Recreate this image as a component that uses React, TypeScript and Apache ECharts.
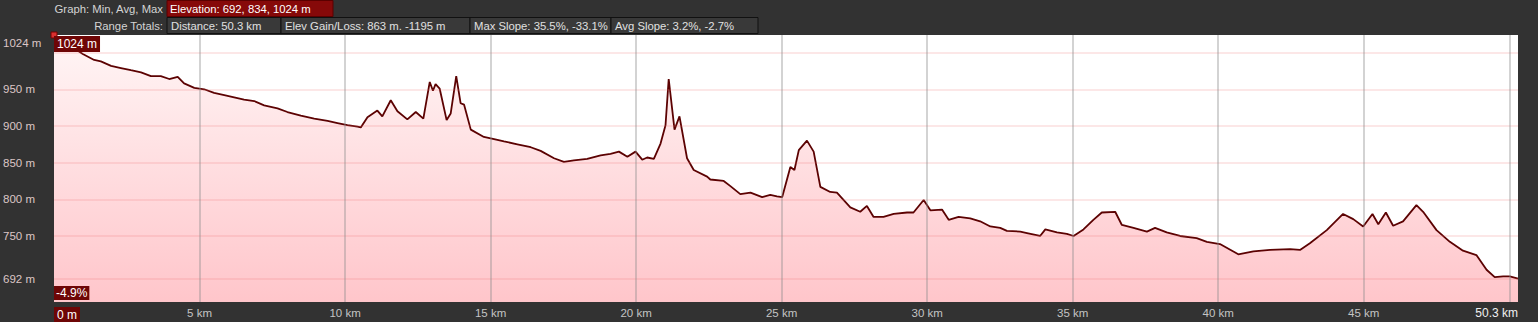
import React, { useEffect, useRef } from "react";
import * as echarts from "echarts";

const distanceKm = [0, 0.99, 1.38, 1.61, 1.96, 2.3, 2.64, 2.99, 3.33, 3.67, 3.96, 4.25, 4.47, 4.82, 5.16, 5.5, 5.85, 6.19, 6.53, 6.88, 7.22, 7.68, 8.02, 8.48, 8.94, 9.4, 9.74, 10.08, 10.43, 10.54, 10.77, 11.11, 11.28, 11.57, 11.8, 12.14, 12.43, 12.69, 12.91, 13.02, 13.11, 13.25, 13.49, 13.63, 13.82, 13.97, 14.09, 14.32, 14.77, 15.12, 15.46, 15.92, 16.38, 16.72, 17.18, 17.52, 17.86, 18.32, 18.78, 19.12, 19.41, 19.7, 19.98, 20.21, 20.38, 20.61, 20.84, 21.01, 21.12, 21.32, 21.49, 21.75, 21.98, 22.44, 22.55, 23.01, 23.24, 23.58, 23.93, 24.33, 24.61, 24.84, 25.02, 25.3, 25.44, 25.59, 25.87, 26.1, 26.33, 26.67, 26.9, 27.36, 27.7, 27.93, 28.16, 28.5, 28.85, 29.31, 29.53, 29.88, 30.11, 30.51, 30.74, 31.08, 31.48, 31.82, 32.17, 32.51, 32.74, 33.2, 33.43, 33.88, 34.06, 34.46, 34.8, 35.03, 35.37, 35.71, 36.0, 36.46, 36.69, 37.09, 37.55, 37.83, 38.23, 38.69, 39.26, 39.61, 40.06, 40.69, 41.21, 41.78, 42.47, 42.81, 43.15, 43.73, 44.29, 44.64, 44.98, 45.3, 45.5, 45.76, 46.01, 46.35, 46.81, 47.04, 47.5, 47.96, 48.41, 48.87, 49.22, 49.5, 49.79, 50.02, 50.3];

const elevationM = [1024, 998, 990, 988, 982, 979, 976, 973, 968, 968, 964, 967, 958, 952, 950, 945, 942, 939, 936, 934, 928, 924, 919, 914, 910, 907, 904, 901, 899, 898, 912, 921, 913, 935, 920, 909, 919, 910, 960, 948, 957, 951, 908, 917, 968, 931, 929, 895, 885, 882, 879, 875, 871, 866, 856, 851, 853, 855, 860, 862, 865, 858, 865, 854, 857, 855, 876, 901, 964, 895, 913, 856, 840, 831, 827, 825, 818, 807, 809, 803, 806, 804, 803, 844, 840, 867, 880, 865, 817, 810, 809, 789, 783, 791, 776, 776, 780, 782, 782, 799, 785, 786, 772, 776, 774, 770, 763, 761, 757, 756, 754, 750, 759, 755, 753, 750, 759, 772, 782, 783, 765, 761, 756, 761, 755, 750, 747, 742, 739, 725, 729, 731, 732, 731, 740, 758, 780, 773, 763, 780, 766, 782, 764, 770, 792, 783, 758, 742, 730, 724, 704, 694, 695, 695, 692];

const yLabelValues = [692, 750, 800, 850, 900, 950, 1024];
const yGridValues = [692, 750, 800, 850, 900, 950, 1000];
const xGridValues = [5, 10, 15, 20, 25, 30, 35, 40, 45, 50];
const yMin = 660;
const yMax = 1024;
const xMax = 50.3;

const headerTitle1 = "Graph: Min, Avg, Max";
const headerTitle2 = "Range Totals:";
const elevationSummary = "Elevation: 692, 834, 1024 m";
const rangeTotals = [
  "Distance: 50.3 km",
  "Elev Gain/Loss: 863 m. -1195 m",
  "Max Slope: 35.5%, -33.1%",
  "Avg Slope: 3.2%, -2.7%",
];
const rangeBoxX = [167, 281, 470, 611, 758];
const maxLabel = "1024 m";
const slopeLabel = "-4.9%";

const FONT = '"Liberation Sans", Arial, sans-serif';
const HF = 11.3;

export default function App() {
  const ref = useRef<HTMLDivElement>(null);
  useEffect(() => {
    if (!ref.current) return;
    const chart = echarts.init(ref.current, undefined, { renderer: "svg" });
    const data = distanceKm.map((k, i) => [k, elevationM[i]]);

    const graphic: any[] = [
      {
        type: "text",
        x: 163,
        y: 8.5,
        style: { text: headerTitle1, fill: "#d4d4d4", fontSize: HF, fontFamily: FONT, align: "right", verticalAlign: "middle" },
      },
      {
        type: "rect",
        shape: { x: 167, y: 0.5, width: 166, height: 16 },
        style: { fill: "#860909", stroke: "#5a0000", lineWidth: 1 },
      },
      {
        type: "text",
        x: 170,
        y: 8.5,
        style: { text: elevationSummary, fill: "#ffffff", fontSize: HF, fontFamily: FONT, verticalAlign: "middle" },
      },
      {
        type: "text",
        x: 163,
        y: 25.5,
        style: { text: headerTitle2, fill: "#d4d4d4", fontSize: HF, fontFamily: FONT, align: "right", verticalAlign: "middle" },
      },
    ];
    rangeTotals.forEach((t, i) => {
      graphic.push({
        type: "rect",
        shape: { x: rangeBoxX[i], y: 17.5, width: rangeBoxX[i + 1] - rangeBoxX[i], height: 16 },
        style: { fill: "#393939", stroke: "#111111", lineWidth: 1 },
      });
      graphic.push({
        type: "text",
        x: rangeBoxX[i] + 4,
        y: 25.5,
        style: { text: t, fill: "#e0e0e0", fontSize: HF, fontFamily: FONT, verticalAlign: "middle" },
      });
    });
    graphic.push({
      type: "text",
      x: 54,
      y: 36,
      z: 100,
      style: {
        text: maxLabel,
        fill: "#ffffff",
        fontSize: 12,
        fontFamily: FONT,
        backgroundColor: "#6e0606",
        padding: [2, 3, 2, 3],
      },
    });
    graphic.push({
      type: "text",
      x: 54,
      y: 286,
      z: 100,
      style: {
        text: slopeLabel,
        fill: "#ffffff",
        fontSize: 12,
        fontFamily: FONT,
        backgroundColor: "#6e0606",
        padding: [1, 2, 1, 2],
      },
    });

    chart.setOption({
      animation: false,
      backgroundColor: "#323232",
      grid: { left: 54, right: 20, top: 35, bottom: 20, show: true, backgroundColor: "#ffffff", borderWidth: 0 },
      xAxis: {
        type: "value",
        min: 0,
        max: xMax,
        interval: 5,
        axisLine: { show: false },
        axisTick: { show: false },
        splitLine: { show: false },
        axisLabel: {
          margin: 5,
          color: "#c4c4c4",
          fontSize: 11.5,
          fontFamily: FONT,
          alignMinLabel: "left",
          alignMaxLabel: "right",
          formatter: (v: number) => {
            if (v === 0) return "{z|0 m}";
            if (Math.abs(v - xMax) < 1e-6) return "{m|" + xMax + " km}";
            if (v === 50) return "";
            return v + " km";
          },
          rich: {
            z: { color: "#ffffff", backgroundColor: "#6e0606", padding: [2, 3, 1, 3], fontSize: 12, fontFamily: FONT },
            m: { color: "#f0f0f0", fontSize: 12, fontFamily: FONT },
          },
        },
      },
      yAxis: {
        type: "value",
        min: yMin,
        max: yMax,
        axisLine: { show: false },
        axisTick: { show: false },
        splitLine: { show: false },
        axisLabel: {
          customValues: yLabelValues,
          align: "left",
          margin: 51,
          color: "#dcc6c6",
          fontSize: 11.5,
          fontFamily: FONT,
          formatter: (v: number) => (v === yMax ? "{t|" + v + " m}" : v + " m"),
          rich: {
            t: { padding: [16, 0, 0, 0], color: "#dcc6c6", fontSize: 11.5, fontFamily: FONT },
          },
        },
      },
      series: [
        {
          type: "line",
          data,
          symbol: "none",
          showSymbol: false,
          z: 3,
          lineStyle: { color: "#5c0202", width: 1.8 },
          areaStyle: {
            color: new echarts.graphic.LinearGradient(0, 0, 0, 1, [
              { offset: 0, color: "#fff2f2" },
              { offset: 1, color: "#ffadb4" },
            ]),
          },
          markLine: {
            silent: true,
            symbol: ["none", "none"],
            label: { show: false },
            animation: false,
            data: [
              ...yGridValues.map((v) => ({ yAxis: v, lineStyle: { color: "rgba(235,110,110,0.22)", width: 1.5, type: "solid" } })),
              ...xGridValues.map((v) => ({ xAxis: v, lineStyle: { color: "rgba(140,140,140,0.48)", width: 1.6, type: "solid" } })),
            ],
          },
          markPoint: {
            silent: true,
            symbol: "rect",
            symbolSize: 6,
            itemStyle: { color: "#d83030", borderColor: "#700000", borderWidth: 1 },
            label: { show: false },
            data: [{ coord: [0, yMax] }],
          },
        },
      ],
      graphic,
    });
    return () => chart.dispose();
  }, []);
  return (
    <div
      ref={ref}
      style={{ position: "fixed", left: 0, top: 0, width: 1538, height: 322 }}
    />
  );
}
